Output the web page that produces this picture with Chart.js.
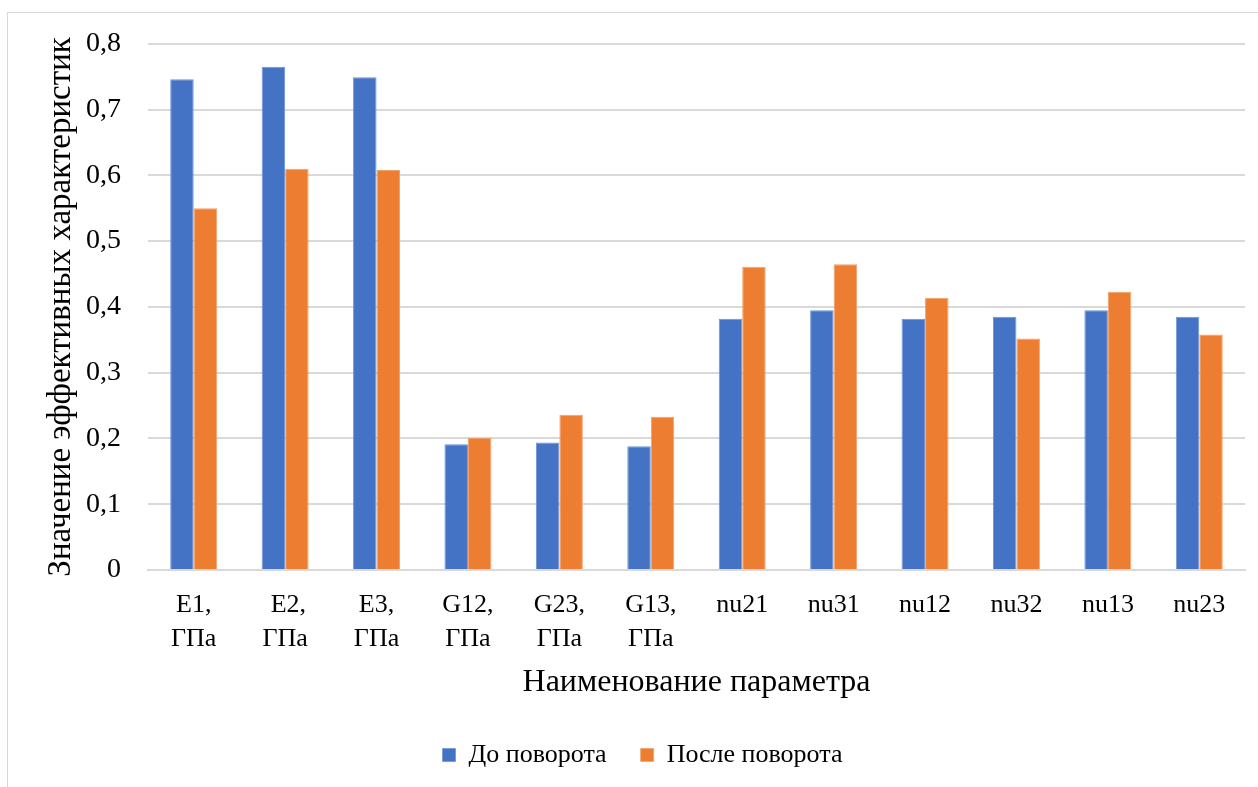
<!DOCTYPE html>
<html>
<head>
<meta charset="utf-8">
<script src="https://cdn.jsdelivr.net/npm/chart.js@4/dist/chart.umd.min.js"></script>
<style>
  html, body { margin: 0; padding: 0; background: #fff; overflow: hidden; }
  #wrap { position: relative; width: 1258px; height: 787px; }
  #frame { position: absolute; left: 7px; top: 12px; width: 1300px; height: 900px; border: 1px solid #d9d9d9; }
  canvas { position: absolute; left: 0; top: 0; }
</style>
</head>
<body>
<div id="wrap">
  <div id="frame"></div>
  <canvas id="chart" width="1258" height="787"></canvas>
</div>
<script>
const categories = [["E1,", "ГПа"], [" E2,", "ГПа"], ["E3,", "ГПа"], ["G12,", "ГПа"], ["G23,", "ГПа"], ["G13,", "ГПа"],
  "nu21", "nu31", "nu12", "nu32", "nu13", "nu23"];
const beforeRotation = [0.746, 0.765, 0.749, 0.191, 0.194, 0.188, 0.382, 0.395, 0.382, 0.385, 0.395, 0.385];
const afterRotation = [0.550, 0.610, 0.608, 0.201, 0.236, 0.233, 0.461, 0.465, 0.414, 0.352, 0.423, 0.358];
const seriesNames = ["До поворота", "После поворота"];
const xTitle = "Наименование параметра";
const yTitle = "Значение эффективных характеристик";

const serif = "'Liberation Serif', 'Times New Roman', serif";
const ctx = document.getElementById("chart").getContext("2d");

new Chart(ctx, {
  type: "bar",
  data: {
    labels: categories,
    datasets: [
      { label: seriesNames[0], data: beforeRotation, backgroundColor: "#4472C4", borderColor: "#6d93d6", borderWidth: { top: 1, left: 1, right: 1, bottom: 0 } },
      { label: seriesNames[1], data: afterRotation, backgroundColor: "#ED7D31", borderColor: "#f2a06a", borderWidth: { top: 1, left: 1, right: 1, bottom: 0 } }
    ]
  },
  options: {
    responsive: false,
    animation: false,
    layout: { padding: { left: 40, right: 13, top: 22, bottom: 9 } },
    datasets: { bar: { categoryPercentage: 0.514, barPercentage: 1 } },
    plugins: {
      tooltip: { enabled: false },
      legend: {
        position: "bottom",
        labels: {
          color: "#000",
          font: { family: serif, size: 26 },
          boxWidth: 13,
          boxHeight: 13,
          padding: 34
        }
      }
    },
    scales: {
      x: {
        grid: { display: false, drawTicks: false },
        border: { display: true, color: "#d9d9d9", width: 2 },
        ticks: {
          color: "#000",
          font: { family: serif, size: 26, lineHeight: 1.3 },
          padding: 18,
          maxRotation: 0,
          autoSkip: false
        },
        title: {
          display: true,
          text: xTitle,
          color: "#000",
          font: { family: serif, size: 32 },
          padding: { top: 10, bottom: 6 }
        },
        afterFit: (scale) => { scale.height = 138; }
      },
      y: {
        min: 0,
        max: 0.8,
        grid: { color: "#d9d9d9", lineWidth: 2, drawTicks: false },
        border: { display: false },
        ticks: {
          stepSize: 0.1,
          color: "#000",
          font: { family: serif, size: 28 },
          padding: 27,
          callback: (v) => (Math.round(v * 10) / 10).toString().replace(".", ",")
        },
        title: {
          display: true,
          text: yTitle,
          color: "#000",
          font: { family: serif, size: 33 },
          padding: { top: 2, bottom: 0 }
        },
        afterFit: (scale) => { scale.width = 108; }
      }
    }
  }
});
</script>
</body>
</html>
